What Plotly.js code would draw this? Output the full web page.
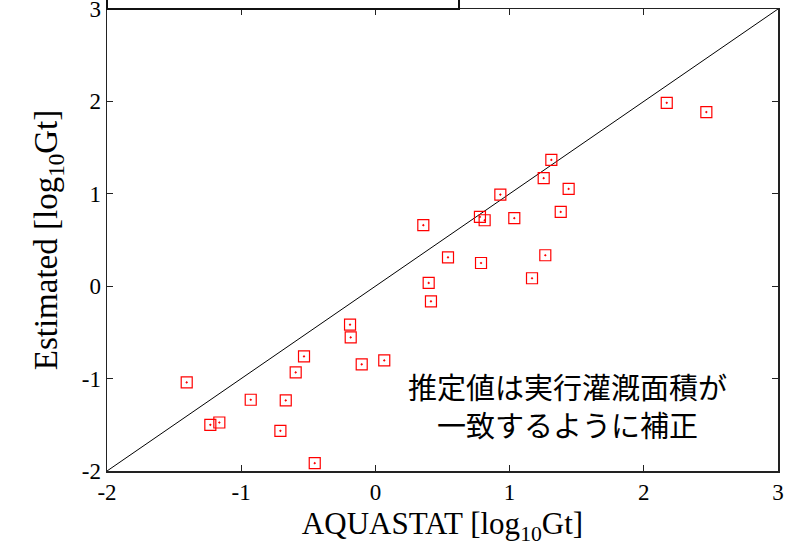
<!DOCTYPE html>
<html>
<head>
<meta charset="utf-8">
<script src="https://cdn.plot.ly/plotly-3.0.1.min.js"></script>
<style>html,body{margin:0;padding:0;background:#fff;}#chart{width:792px;height:547px;}</style>
</head>
<body>
<div id="chart"></div>
<script>
// AQUASTAT (log10 Gt) vs Estimated (log10 Gt)
const aquastat = [-0.189, -0.184, -0.532, -0.594, -0.102, 0.066, -1.406, -0.929, -0.668, -1.230,
                  -1.163, -0.708, -0.452, 1.311, 1.254, 1.440, 0.931, 1.381, 0.779, 0.814,
                  1.035, 0.357, 0.541, 0.787, 1.266, 1.167, 0.397, 0.414, 2.171, 2.466];
const estimated = [-0.416, -0.554, -0.760, -0.933, -0.846, -0.803, -1.041, -1.229, -1.236, -1.500,
                   -1.475, -1.565, -1.915, 1.367, 1.169, 1.053, 0.992, 0.804, 0.750, 0.714,
                   0.736, 0.660, 0.313, 0.251, 0.335, 0.086, 0.035, -0.164, 1.985, 1.884];
const lineX = [-2, 3];
const lineY = [-2, 3];
const xTicks = [-2, -1, 0, 1, 2, 3];
const yTicks = [-2, -1, 0, 1, 2, 3];
const noteLines = ["推定値は実行灌漑面積が", "一致するように補正"];

const serif = "Liberation Serif, Times New Roman, serif";

const traces = [
  {x: lineX, y: lineY, mode: "lines", type: "scatter",
   line: {color: "#000", width: 1}, hoverinfo: "skip", showlegend: false},
  {x: aquastat, y: estimated, mode: "markers", type: "scatter",
   marker: {symbol: "square-open-dot", size: 11, color: "#ff0000", line: {width: 1.2, color: "#ff0000"}},
   showlegend: false}
];

const axisCommon = {
  showgrid: false, zeroline: false, showline: true, linecolor: "#222", linewidth: 1.5,
  mirror: "ticks", ticks: "inside", ticklen: 6, tickwidth: 1, tickcolor: "#222",
  tickfont: {family: serif, size: 23, color: "#000"}, tickmode: "array",
  ticklabeloverflow: "allow"
};

const layout = {
  width: 792, height: 547,
  margin: {l: 107, r: 14, t: 9, b: 76},
  paper_bgcolor: "#fff", plot_bgcolor: "#fff",
  xaxis: Object.assign({}, axisCommon, {
    range: [-2, 3], tickvals: xTicks, ticktext: xTicks.map(String),
    title: {text: "AQUASTAT [log<sub>10</sub>Gt]", font: {family: serif, size: 31, color: "#000"}, standoff: 8}
  }),
  yaxis: Object.assign({}, axisCommon, {
    range: [-2, 3], tickvals: yTicks, ticktext: yTicks.map(String),
    title: {text: "Estimated [log<sub>10</sub>Gt]", font: {family: serif, size: 33, color: "#000"}, standoff: 14}
  }),
  shapes: [
    {type: "rect", xref: "paper", yref: "paper", x0: 0, x1: 0.5246, y0: 1, y1: 1.2,
     line: {color: "#111", width: 2}, fillcolor: "rgba(0,0,0,0)", layer: "above"}
  ],
  annotations: [
    {x: 1.428, y: -1.29, xref: "x", yref: "y", text: noteLines.join("<br>"), showarrow: false,
     align: "center", font: {family: "Noto Sans CJK JP", size: 29, color: "#000"}}
  ]
};

Plotly.newPlot("chart", traces, layout, {staticPlot: true, displayModeBar: false});
</script>
</body>
</html>
